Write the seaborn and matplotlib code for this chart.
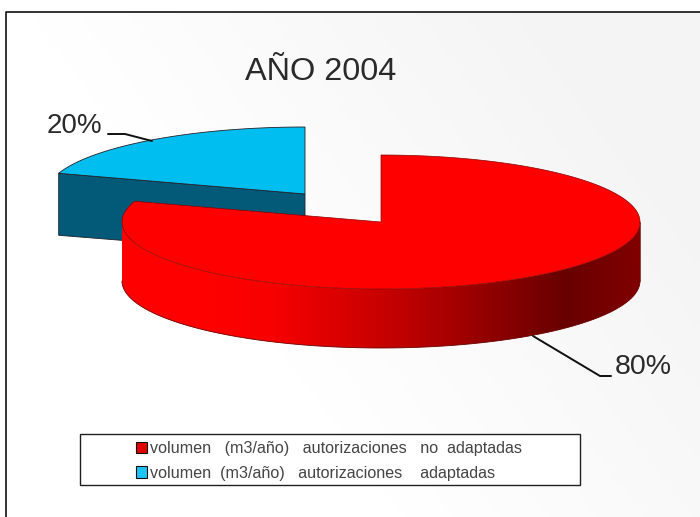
import numpy as np
import matplotlib
matplotlib.use("Agg")
import matplotlib.pyplot as plt
from matplotlib.patches import Rectangle, Patch, Polygon
import seaborn as sns

title = "AÑO 2004"
labels = ["volumen   (m3/año)   autorizaciones   no  adaptadas",
          "volumen  (m3/año)   autorizaciones    adaptadas"]
shares = [80, 20]
share_labels = ["80%", "20%"]
top_colors = ["#FF0000", "#00BFF0"]
side_blue = "#035A78"
legend_colors = ["#E00000", "#1CC4F4"]
side_stops = ["#FF0000", "#FF0000", "#F80000", "#D80000", "#B80000", "#900000", "#680000", "#800000"]

sns.set_theme(style="white")
plt.rcParams["font.family"] = ["Liberation Sans", "DejaVu Sans"]

RX, RY, DEPTH = 259, 67, 59
RED_C = np.array([381.0, 222.0])
BLUE_C = np.array([305.0, 194.0])
INK = "#20202a"

fig = plt.figure(figsize=(7, 5.17), dpi=100)
ax = fig.add_axes([0, 0, 1, 1])
ax.axis("off")

# soft background shading
xx, yy = np.meshgrid(np.linspace(0, 1, 140), np.linspace(0, 1, 104))
shade = 255 - 11 * np.clip(1.3 * xx - 0.7 * yy - 0.05, 0, 1)
bg = np.dstack([shade, shade, shade]).astype(np.uint8)
ax.imshow(bg, extent=(6, 700, 517, 12), aspect="auto", zorder=0, interpolation="bilinear")
ax.plot([6, 6, 700], [517, 12, 12], color="#101010", lw=1.2, zorder=1)


def rim(center, start, stop, n=400):
    a = np.deg2rad(np.linspace(start, stop, n))
    return center[0] + RX * np.sin(a), center[1] - RY * np.cos(a)


total = sum(shares)
sweep_red = 360 * shares[0] / total

# blue wedge (pulled out to the back left), starts where red ends
bx, by = rim(BLUE_C, sweep_red, 360)
cut_x = [bx[0], BLUE_C[0], BLUE_C[0], bx[0]]
cut_y = [by[0], BLUE_C[1], BLUE_C[1] + DEPTH + 2, by[0] + DEPTH + 3]
ax.fill(cut_x, cut_y, color=side_blue, ec=INK, lw=0.6, zorder=2)
ax.fill(np.r_[BLUE_C[0], bx], np.r_[BLUE_C[1], by], color=top_colors[1], ec=INK, lw=0.6, zorder=3)

# red wedge outer wall, shaded left to right
wx, wy = rim(RED_C, 90, 270, 400)
wall_poly = np.c_[np.r_[wx, wx[::-1]], np.r_[wy, wy[::-1] + DEPTH]]
ramp = np.array(sns.blend_palette(side_stops, n_colors=518))[None, :, :]
im = ax.imshow(ramp, extent=(RED_C[0] - RX, RED_C[0] + RX, wy.max() + DEPTH, wy.min()),
               aspect="auto", zorder=4, interpolation="bilinear")
im.set_clip_path(Polygon(wall_poly, transform=ax.transData))
ax.plot(wx, wy + DEPTH, color="#6a0000", lw=0.6, zorder=5)
ax.plot([wx[0], wx[0]], [wy[0], wy[0] + DEPTH], color="#5a0000", lw=0.5, zorder=5)

# red top face
rx_, ry_ = rim(RED_C, 0, sweep_red)
ax.fill(np.r_[RED_C[0], rx_], np.r_[RED_C[1], ry_], color=top_colors[0], ec="#8a0000", lw=0.5, zorder=6)

# share labels with leader lines
ax.plot([611, 600, 533], [376, 376, 336], color="#101010", lw=1.4, zorder=7)
ax.plot([108, 125, 152], [134, 134, 141], color="#101010", lw=1.4, zorder=7)
ax.text(615, 367, share_labels[0], fontsize=20.5, color="#2a2a2a", ha="left", va="center", zorder=8)
ax.text(47, 126, share_labels[1], fontsize=20, color="#2a2a2a", ha="left", va="center", zorder=8)
ax.text(321, 72, title, fontsize=23.4, color="#2a2a2a", ha="center", va="center", zorder=8)

# legend
ax.add_patch(Rectangle((80, 434), 500, 51, fc="white", ec="#202020", lw=1.0, zorder=8))
handles = [Patch(fc=c, ec="#101010", lw=0.8) for c in legend_colors]
leg = ax.legend(handles, labels, loc="upper left", bbox_to_anchor=(123, 428.5),
                bbox_transform=ax.transData, frameon=False, fontsize=11.6,
                handlelength=0.7, handleheight=0.7, handletextpad=0.15,
                labelspacing=0.57, borderpad=0.3, labelcolor="#444444")
leg.set_zorder(9)

ax.set_xlim(0, 700)
ax.set_ylim(517, 0)
fig.savefig("out.png", dpi=100)
